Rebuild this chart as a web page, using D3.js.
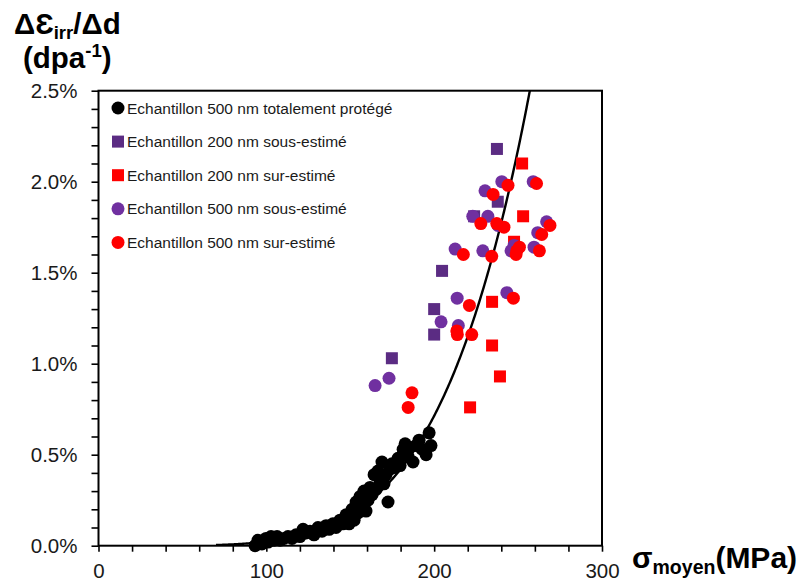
<!DOCTYPE html>
<html>
<head>
<meta charset="utf-8">
<script src="https://d3js.org/d3.v7.min.js"></script>
<style>
  body { margin: 0; background: #fff; }
  svg { display: block; font-family: "Liberation Sans", Arial, sans-serif; }
</style>
</head>
<body>
<svg width="800" height="584"></svg>
<script>
// [sigma moyen (MPa), d eps / d dpa (%)]
const protege500 = [
  [93.3,0.00],[95,0.03],[97.4,0.01],[99.8,0.04],[101,0.02],[102.8,0.05],[104.6,0.03],[106.4,0.05],
  [108.2,0.03],[110.5,0.04],[112.9,0.05],[115.3,0.04],[117.7,0.06],[120,0.05],[121.9,0.09],[123.7,0.07],
  [126,0.08],[128.4,0.06],[130.8,0.10],[133.2,0.08],[135.6,0.11],[137.4,0.09],[139.7,0.12],[141.5,0.10],
  [143.9,0.14],[145.7,0.12],[147.5,0.17],[149.3,0.12],[151.1,0.20],[152.3,0.14],[153.5,0.24],[154.6,0.18],
  [155.8,0.27],[157,0.22],[158.2,0.30],[159.4,0.19],[160.6,0.25],[161.8,0.32],[163,0.28],[164.2,0.39],
  [165.4,0.31],[166.5,0.41],[167.7,0.36],[168.9,0.46],[170.1,0.34],[171.3,0.39],[172.5,0.24],[173.7,0.42],
  [174.9,0.45],[176.7,0.43],[178.5,0.48],[179.7,0.44],[181.5,0.53],[182.7,0.56],[184.5,0.49],[185.6,0.54],
  [187.4,0.46],[189.2,0.55],[191,0.58],[192.8,0.53],[195.2,0.50],[197,0.62],[198.1,0.55]
];
const sous200 = [[237.4,2.18],[237.9,1.89],[223.8,1.81],[204.7,1.51],[200,1.30],[200,1.16],[174.8,1.03]];
const sur200 = [[252.4,2.10],[253,1.81],[247.6,1.67],[234.5,1.34],[234.5,1.10],[239.2,0.93],[221.4,0.76]];
const sous500 = [
  [164.8,0.88],[173.1,0.92],[204.1,1.23],[214.4,1.21],[213.7,1.36],[243.3,1.39],[212.5,1.63],[229,1.62],
  [245.8,1.62],[247.6,1.65],[259.5,1.64],[261.7,1.72],[267,1.78],[238,1.76],[223,1.81],[232,1.81],
  [230.3,1.95],[240.3,2.00],[259,2.00]
];
const sur500 = [
  [184.5,0.76],[186.8,0.84],[213.5,1.18],[213.8,1.16],[222.4,1.16],[221,1.32],[247.2,1.36],[217.4,1.60],
  [234.3,1.59],[248.8,1.60],[249.2,1.62],[250.8,1.64],[262.7,1.62],[264.1,1.71],[269,1.76],[227.8,1.77],
  [237.3,1.77],[241.6,1.75],[235.1,1.93],[244,1.98],[261,1.99]
];
// power-law trend line y = a * x^n
const trendA = 2.284 / Math.pow(252.4, 5);
const trendN = 5;
const trendStart = 70;

const series = [
  {label: "Echantillon 500 nm totalement protégé", data: protege500, shape: "circle", color: "#000000"},
  {label: "Echantillon 200 nm sous-estimé", data: sous200, shape: "square", color: "#5b2c83"},
  {label: "Echantillon 200 nm sur-estimé", data: sur200, shape: "square", color: "#ff0000"},
  {label: "Echantillon 500 nm sous-estimé", data: sous500, shape: "circle", color: "#7030a0"},
  {label: "Echantillon 500 nm sur-estimé", data: sur500, shape: "circle", color: "#ff0000"}
];

const svg = d3.select("svg");
const plotLeft = 98.5, plotRight = 602, plotTop = 90.7, plotBottom = 545.7;

const x = d3.scaleLinear().domain([0, 300]).range([plotLeft, plotRight]);
const y = d3.scaleLinear().domain([0, 2.5]).range([plotBottom, plotTop]);

// axes
const yAxis = d3.axisLeft(y)
  .tickValues(d3.range(0, 26).map(i => i / 10))
  .tickSize(7).tickPadding(14)
  .tickFormat(d => Math.round(d * 10) % 5 === 0 ? d.toFixed(1) + "%" : "");
const xAxis = d3.axisBottom(x)
  .tickValues(d3.range(0, 301, 20))
  .tickSize(6).tickPadding(12)
  .tickFormat(d => d % 100 === 0 ? d : "");

const gy = svg.append("g").attr("transform", `translate(${plotLeft},0)`).call(yAxis);
const gx = svg.append("g").attr("transform", `translate(0,${plotBottom})`).call(xAxis);
[gx, gy].forEach(g => {
  g.select(".domain").remove();
  g.selectAll(".tick line").attr("stroke", "#000").attr("stroke-width", 1.6);
  g.selectAll(".tick text").attr("fill", "#1a1a1a").style("font-size", "20.5px")
    .style("font-family", "'Liberation Sans', Arial, sans-serif");
});

svg.append("rect")
  .attr("x", plotLeft).attr("y", plotTop)
  .attr("width", plotRight - plotLeft).attr("height", plotBottom - plotTop)
  .attr("fill", "none").attr("stroke", "#000").attr("stroke-width", 2);

svg.append("clipPath").attr("id", "plot")
  .append("rect").attr("x", plotLeft).attr("y", plotTop)
  .attr("width", plotRight - plotLeft).attr("height", plotBottom - plotTop);

// trend line
const trendPts = d3.range(trendStart, 262, 0.5).map(v => [v, trendA * Math.pow(v, trendN)]);
svg.append("path")
  .datum(trendPts)
  .attr("clip-path", "url(#plot)")
  .attr("fill", "none").attr("stroke", "#000").attr("stroke-width", 2.4)
  .attr("d", d3.line().x(d => x(d[0])).y(d => y(d[1])));

// points
function drawMarker(sel, shape, color, cx, cy) {
  if (shape === "circle") {
    sel.append("circle").attr("cx", cx).attr("cy", cy).attr("r", 6.5).attr("fill", color);
  } else {
    sel.append("rect").attr("x", cx - 6).attr("y", cy - 6).attr("width", 12).attr("height", 12).attr("fill", color);
  }
}
series.forEach(s => {
  const g = svg.append("g");
  s.data.forEach(d => drawMarker(g, s.shape, s.color, x(d[0]), y(d[1])));
});

// legend
const legend = svg.append("g");
series.forEach((s, i) => {
  const ly = 108 + i * 33.6;
  drawMarker(legend, s.shape, s.color, 118, ly);
  legend.append("text")
    .attr("x", 127).attr("y", ly).attr("dy", "0.36em")
    .attr("fill", "#1a1a1a").style("font-size", "15.5px")
    .text(s.label);
});

// axis titles
const yt = svg.append("text").attr("x", 14).attr("y", 34)
  .style("font-weight", "bold").style("font-size", "29.5px").attr("fill", "#000");
yt.append("tspan").text("ΔƐ");
yt.append("tspan").attr("dy", 5).style("font-size", "18.5px").text("irr");
yt.append("tspan").attr("dy", -5).text("/Δd");

const yt2 = svg.append("text").attr("x", 23).attr("y", 68)
  .style("font-weight", "bold").style("font-size", "29.5px").attr("fill", "#000");
yt2.append("tspan").text("(dpa");
yt2.append("tspan").attr("dy", -11).style("font-size", "18.5px").text("-1");
yt2.append("tspan").attr("dy", 11).text(")");

const xt = svg.append("text").attr("x", 632).attr("y", 568)
  .style("font-weight", "bold").style("font-size", "30px").attr("fill", "#000");
xt.append("tspan").text("σ");
xt.append("tspan").attr("dy", 6).style("font-size", "19.5px").text("moyen");
xt.append("tspan").attr("dy", -6).text("(MPa)");
</script>
</body>
</html>
